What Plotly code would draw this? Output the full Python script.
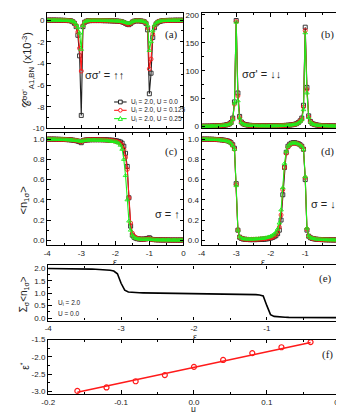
import plotly.graph_objects as go

# ---------------- data ----------------
eps = [-4.00, -3.95, -3.90, -3.85, -3.80, -3.75, -3.70, -3.65, -3.60, -3.55,
       -3.50, -3.45, -3.40, -3.35, -3.30, -3.25, -3.20, -3.15, -3.10, -3.05,
       -3.00, -2.95, -2.90, -2.85, -2.80, -2.75, -2.70, -2.65, -2.60, -2.55,
       -2.50, -2.45, -2.40, -2.35, -2.30, -2.25, -2.20, -2.15, -2.10, -2.05,
       -2.00, -1.95, -1.90, -1.85, -1.80, -1.75, -1.70, -1.65, -1.60, -1.55,
       -1.50, -1.45, -1.40, -1.35, -1.30, -1.25, -1.20, -1.15, -1.10, -1.05,
       -1.00, -0.95, -0.90, -0.85, -0.80, -0.75, -0.70, -0.65, -0.60, -0.55,
       -0.50, -0.45, -0.40, -0.35, -0.30, -0.25, -0.20, -0.15, -0.10, -0.05,
       0.00]

series_names = ["U<sub>i</sub> = 2.0, U = 0.0",
                "U<sub>i</sub> = 2.0, U = 0.125",
                "U<sub>i</sub> = 2.0, U = 0.25"]

# (a) concurrence up-up (x10^-3)
a_U0 = [0.0, 0.0, 0.0, 0.0, 0.0, 0.0, -0.01, -0.01, -0.01, -0.02,
        -0.02, -0.03, -0.04, -0.05, -0.07, -0.15, -0.3, -0.6, -1.4, -3.3,
        -8.8, -0.6, -0.2, -0.1, -0.06, -0.05, -0.04, -0.04, -0.04, -0.04,
        -0.04, -0.04, -0.04, -0.05, -0.05, -0.05, -0.06, -0.06, -0.07, -0.08,
        -0.08, -0.09, -0.1, -0.12, -0.16, -0.22, -0.3, -0.38, -0.42, -0.32,
        -0.18, -0.1, -0.07, -0.06, -0.07, -0.08, -0.1, -0.15, -0.3, -0.9,
        -6.8, -4.9, -1.6, -0.7, -0.35, -0.2, -0.12, -0.08, -0.05, -0.04,
        -0.03, -0.03, -0.02, -0.02, -0.02, -0.01, -0.01, -0.01, -0.01, -0.01,
        -0.01]
a_U125 = [0.0, 0.0, 0.0, 0.0, 0.0, 0.0, -0.01, -0.01, -0.01, -0.02,
          -0.02, -0.03, -0.04, -0.05, -0.07, -0.13, -0.25, -0.5, -1.1, -2.6,
          -4.7, -0.5, -0.18, -0.1, -0.06, -0.05, -0.04, -0.04, -0.04, -0.04,
          -0.04, -0.04, -0.04, -0.05, -0.05, -0.05, -0.06, -0.06, -0.07, -0.08,
          -0.08, -0.09, -0.1, -0.12, -0.16, -0.21, -0.28, -0.36, -0.4, -0.3,
          -0.17, -0.1, -0.07, -0.06, -0.07, -0.08, -0.1, -0.14, -0.25, -0.7,
          -4.5, -3.6, -1.3, -0.6, -0.3, -0.17, -0.1, -0.07, -0.05, -0.04,
          -0.03, -0.03, -0.02, -0.02, -0.02, -0.01, -0.01, -0.01, -0.01, -0.01,
          -0.01]
a_U25 = [0.0, 0.0, 0.0, 0.0, 0.0, 0.0, -0.01, -0.01, -0.01, -0.02,
         -0.02, -0.03, -0.04, -0.05, -0.06, -0.1, -0.2, -0.4, -0.7, -1.2,
         -2.7, -0.5, -0.15, -0.08, -0.05, -0.04, -0.03, -0.03, -0.03, -0.03,
         -0.03, -0.03, -0.03, -0.04, -0.04, -0.04, -0.05, -0.05, -0.06, -0.06,
         -0.07, -0.08, -0.09, -0.1, -0.13, -0.17, -0.22, -0.27, -0.3, -0.24,
         -0.14, -0.08, -0.06, -0.05, -0.06, -0.07, -0.09, -0.12, -0.2, -0.5,
         -2.8, -2.0, -1.0, -0.45, -0.25, -0.15, -0.09, -0.06, -0.04, -0.03,
         -0.03, -0.02, -0.02, -0.02, -0.01, -0.01, -0.01, -0.01, -0.01, -0.01,
         -0.01]

# (b) concurrence down-down
b_U0 = [0.5, 0.5, 0.5, 0.6, 0.6, 0.7, 0.8, 0.9, 1.0, 1.1,
        1.3, 1.5, 1.8, 2.1, 2.6, 3.3, 4.5, 7.0, 15.0, 44.0,
        190.0, 60.0, 18.0, 8.0, 5.0, 3.5, 2.8, 2.3, 2.0, 1.8,
        1.6, 1.4, 1.3, 1.25, 1.2, 1.15, 1.1, 1.1, 1.1, 1.1,
        1.1, 1.15, 1.2, 1.25, 1.3, 1.4, 1.5, 1.6, 1.8, 2.0,
        2.2, 2.5, 2.8, 3.3, 4.0, 5.0, 7.0, 10.0, 15.0, 38.0,
        178.0, 70.0, 19.0, 9.0, 5.5, 4.0, 3.0, 2.5, 2.0, 1.7,
        1.5, 1.3, 1.2, 1.1, 1.0, 0.95, 0.9, 0.85, 0.8, 0.8,
        0.8]
b_U125 = [0.5, 0.5, 0.5, 0.6, 0.6, 0.7, 0.8, 0.9, 1.0, 1.1,
          1.3, 1.5, 1.8, 2.1, 2.5, 3.2, 4.3, 6.5, 13.0, 40.0,
          188.0, 55.0, 16.0, 7.5, 4.8, 3.4, 2.7, 2.2, 1.9, 1.7,
          1.5, 1.4, 1.3, 1.25, 1.2, 1.15, 1.1, 1.1, 1.1, 1.1,
          1.1, 1.15, 1.2, 1.25, 1.3, 1.4, 1.5, 1.6, 1.8, 2.0,
          2.2, 2.5, 2.8, 3.2, 3.9, 4.8, 6.7, 9.5, 13.0, 35.0,
          172.0, 66.0, 17.0, 8.5, 5.2, 3.8, 2.9, 2.4, 1.9, 1.6,
          1.4, 1.3, 1.2, 1.1, 1.0, 0.95, 0.9, 0.85, 0.8, 0.8,
          0.8]
b_U25 = [0.5, 0.5, 0.5, 0.6, 0.6, 0.7, 0.8, 0.9, 1.0, 1.1,
         1.3, 1.5, 1.7, 2.0, 2.4, 3.0, 4.1, 6.0, 12.0, 42.0,
         187.0, 46.0, 15.0, 7.0, 4.5, 3.2, 2.6, 2.1, 1.8, 1.6,
         1.5, 1.4, 1.3, 1.25, 1.2, 1.15, 1.1, 1.1, 1.1, 1.1,
         1.1, 1.15, 1.2, 1.25, 1.3, 1.4, 1.5, 1.6, 1.8, 2.0,
         2.2, 2.4, 2.7, 3.1, 3.7, 4.6, 6.3, 9.0, 12.0, 30.0,
         168.0, 60.0, 16.0, 8.0, 5.0, 3.6, 2.8, 2.3, 1.9, 1.6,
         1.4, 1.3, 1.2, 1.1, 1.0, 0.95, 0.9, 0.85, 0.8, 0.8,
         0.8]

# (c) <n_1up>
c_U0 = [1.0, 1.0, 1.0, 1.0, 1.0, 0.999, 0.999, 0.998, 0.998, 0.997,
        0.997, 0.996, 0.995, 0.994, 0.993, 0.99, 0.988, 0.985, 0.98, 0.975,
        0.965, 0.985, 0.99, 0.992, 0.993, 0.994, 0.995, 0.995, 0.995, 0.995,
        0.995, 0.995, 0.995, 0.994, 0.994, 0.993, 0.992, 0.99, 0.99, 0.988,
        0.985, 0.982, 0.978, 0.972, 0.96, 0.93, 0.86, 0.73, 0.42, 0.14,
        0.05, 0.03, 0.02, 0.015, 0.012, 0.011, 0.011, 0.012, 0.014, 0.018,
        0.025, 0.012, 0.008, 0.006, 0.005, 0.004, 0.004, 0.003, 0.003, 0.003,
        0.003, 0.003, 0.002, 0.002, 0.002, 0.002, 0.002, 0.002, 0.002, 0.002,
        0.002]
c_U125 = [1.0, 1.0, 1.0, 1.0, 1.0, 0.999, 0.999, 0.998, 0.998, 0.997,
          0.997, 0.996, 0.995, 0.994, 0.993, 0.991, 0.989, 0.987, 0.983, 0.979,
          0.972, 0.986, 0.99, 0.992, 0.993, 0.994, 0.994, 0.994, 0.994, 0.994,
          0.994, 0.994, 0.993, 0.993, 0.992, 0.991, 0.99, 0.988, 0.986, 0.983,
          0.98, 0.975, 0.97, 0.96, 0.94, 0.9, 0.82, 0.7, 0.42, 0.17,
          0.07, 0.04, 0.025, 0.018, 0.014, 0.012, 0.011, 0.011, 0.012, 0.014,
          0.016, 0.01, 0.007, 0.005, 0.004, 0.004, 0.003, 0.003, 0.003, 0.003,
          0.003, 0.003, 0.002, 0.002, 0.002, 0.002, 0.002, 0.002, 0.002, 0.002,
          0.002]
c_U25 = [1.0, 1.0, 1.0, 1.0, 1.0, 0.999, 0.999, 0.998, 0.998, 0.997,
         0.996, 0.995, 0.994, 0.993, 0.992, 0.99, 0.988, 0.986, 0.984, 0.981,
         0.978, 0.985, 0.988, 0.99, 0.991, 0.991, 0.991, 0.991, 0.991, 0.99,
         0.99, 0.99, 0.989, 0.988, 0.987, 0.986, 0.984, 0.982, 0.98, 0.978,
         0.975, 0.97, 0.96, 0.94, 0.9, 0.8, 0.64, 0.4, 0.19, 0.1,
         0.05, 0.03, 0.02, 0.015, 0.012, 0.01, 0.01, 0.01, 0.01, 0.011,
         0.012, 0.009, 0.006, 0.005, 0.004, 0.004, 0.003, 0.003, 0.003, 0.003,
         0.003, 0.003, 0.002, 0.002, 0.002, 0.002, 0.002, 0.002, 0.002, 0.002,
         0.002]

# (d) <n_1down>
d_U0 = [1.0, 1.0, 1.0, 1.0, 1.0, 0.999, 0.999, 0.998, 0.997, 0.996,
        0.995, 0.994, 0.992, 0.99, 0.987, 0.983, 0.977, 0.965, 0.945, 0.91,
        0.56, 0.1, 0.03, 0.018, 0.012, 0.01, 0.008, 0.007, 0.006, 0.006,
        0.006, 0.006, 0.007, 0.007, 0.008, 0.009, 0.01, 0.012, 0.014, 0.017,
        0.021, 0.027, 0.035, 0.045, 0.065, 0.1, 0.2, 0.45, 0.72, 0.87,
        0.93, 0.95, 0.96, 0.965, 0.965, 0.96, 0.955, 0.945, 0.93, 0.9,
        0.6, 0.1, 0.04, 0.025, 0.018, 0.014, 0.011, 0.009, 0.008, 0.007,
        0.006, 0.005, 0.005, 0.004, 0.004, 0.004, 0.003, 0.003, 0.003, 0.003,
        0.003]
d_U125 = [1.0, 1.0, 1.0, 1.0, 1.0, 0.999, 0.999, 0.998, 0.997, 0.996,
          0.995, 0.993, 0.991, 0.989, 0.986, 0.982, 0.975, 0.962, 0.94, 0.9,
          0.55, 0.1, 0.032, 0.02, 0.014, 0.011, 0.01, 0.009, 0.009, 0.009,
          0.009, 0.01, 0.01, 0.011, 0.012, 0.013, 0.015, 0.017, 0.02, 0.022,
          0.025, 0.03, 0.04, 0.055, 0.08, 0.13, 0.25, 0.5, 0.72, 0.86,
          0.92, 0.945, 0.955, 0.96, 0.96, 0.958, 0.952, 0.942, 0.928, 0.9,
          0.62, 0.11, 0.042, 0.026, 0.019, 0.015, 0.012, 0.01, 0.008, 0.007,
          0.006, 0.005, 0.005, 0.004, 0.004, 0.004, 0.003, 0.003, 0.003, 0.003,
          0.003]
d_U25 = [1.0, 1.0, 1.0, 1.0, 1.0, 0.999, 0.999, 0.998, 0.997, 0.996,
         0.994, 0.992, 0.99, 0.987, 0.984, 0.98, 0.972, 0.96, 0.935, 0.9,
         0.54, 0.1, 0.035, 0.022, 0.016, 0.013, 0.012, 0.012, 0.012, 0.012,
         0.012, 0.013, 0.014, 0.015, 0.017, 0.019, 0.02, 0.024, 0.028, 0.033,
         0.04, 0.05, 0.06, 0.08, 0.11, 0.17, 0.3, 0.52, 0.76, 0.88,
         0.93, 0.95, 0.96, 0.963, 0.963, 0.96, 0.953, 0.943, 0.93, 0.9,
         0.63, 0.12, 0.045, 0.028, 0.02, 0.016, 0.013, 0.011, 0.009, 0.008,
         0.007, 0.006, 0.005, 0.005, 0.004, 0.004, 0.004, 0.003, 0.003, 0.003,
         0.003]

# (e) total occupation, U_i = 2.0, U = 0.0
e_sum = [1.995, 1.995, 1.994, 1.993, 1.992, 1.99, 1.988, 1.986, 1.983, 1.98,
         1.977, 1.973, 1.968, 1.962, 1.955, 1.945, 1.935, 1.92, 1.89, 1.78,
         1.4, 1.12, 1.05, 1.03, 1.022, 1.018, 1.015, 1.013, 1.012, 1.011,
         1.01, 1.01, 1.009, 1.008, 1.007, 1.006, 1.005, 1.004, 1.003, 1.002,
         1.0, 0.999, 0.998, 0.997, 0.995, 0.993, 0.991, 0.989, 0.987, 0.985,
         0.982, 0.979, 0.976, 0.972, 0.968, 0.962, 0.955, 0.945, 0.93, 0.89,
         0.5, 0.14, 0.07, 0.05, 0.04, 0.035, 0.03, 0.027, 0.025, 0.023,
         0.022, 0.021, 0.02, 0.02, 0.019, 0.019, 0.018, 0.018, 0.018, 0.017,
         0.017]

# (f) eps* vs mu
mu = [-0.16, -0.12, -0.08, -0.04, 0.0, 0.04, 0.08, 0.12, 0.16]
eps_star = [-2.99, -2.89, -2.71, -2.53, -2.29, -2.09, -1.89, -1.72, -1.57]
fit_mu = [-0.16, 0.16]
fit_eps = [-3.03, -1.58]

# tick labels
eps_ticks = [-4, -3, -2, -1, 0]
eps_ticktext = ["-4", "-3", "-2", "-1", "0"]
a_ticks = [0, -2, -4, -6, -8, -10]
a_ticktext = ["0", "-2", "-4", "-6", "-8", "-10"]
b_ticks = [0, 50, 100, 150, 200]
b_ticktext = ["0", "50", "100", "150", "200"]
n_ticks = [0.0, 0.2, 0.4, 0.6, 0.8, 1.0]
n_ticktext = ["0.0", "0.2", "0.4", "0.6", "0.8", "1.0"]
e_ticks = [0.0, 0.5, 1.0, 1.5, 2.0]
e_ticktext = ["0.0", "0.5", "1.0", "1.5", "2.0"]
f_yticks = [-3.0, -2.5, -2.0, -1.5]
f_yticktext = ["-3.0", "-2.5", "-2.0", "-1.5"]
f_xticks = [-0.2, -0.1, 0.0, 0.1, 0.2]
f_xticktext = ["-0.2", "-0.1", "0.0", "0.1", "0.2"]

# ---------------- layout helpers ----------------
W, H = 344, 412
SANS = "Liberation Sans, Arial, sans-serif"
SERIF = "Liberation Serif, Times New Roman, serif"
colors = ["#222222", "#ff1a1a", "#1cf01c"]
symbols = ["square-open", "circle-open", "triangle-up-open"]


def px_x(px):
    return px / W


def px_y(py):
    return 1 - py / H


def xdom(l, r):
    return [l / W, r / W]


def ydom(top, bottom):
    return [1 - bottom / H, 1 - top / H]


def axis_style(domain, rng, tickvals, ticktext, minor_dtick, anchor, show_labels=True):
    return dict(domain=domain, range=rng, tickmode="array", tickvals=tickvals,
                ticktext=ticktext, showticklabels=show_labels,
                showline=True, linecolor="black", linewidth=1.4, mirror="allticks",
                ticks="inside", ticklen=3.5, tickwidth=1, tickcolor="black",
                minor=dict(ticks="inside", ticklen=2, tickwidth=0.8, tickcolor="black",
                           dtick=minor_dtick, showgrid=False),
                showgrid=False, zeroline=False, anchor=anchor,
                tickfont=dict(family=SANS, size=8, color="#222"))


fig = go.Figure()

panels = [
    ("x", "y", [a_U0, a_U125, a_U25]),
    ("x2", "y2", [b_U0, b_U125, b_U25]),
    ("x3", "y3", [c_U0, c_U125, c_U25]),
    ("x4", "y4", [d_U0, d_U125, d_U25]),
]
for xa, ya, series in panels:
    for k, vals in enumerate(series):
        fig.add_trace(go.Scatter(
            x=eps, y=vals, xaxis=xa, yaxis=ya, mode="lines+markers",
            name=series_names[k], showlegend=False,
            line=dict(color=colors[k], width=1.1),
            marker=dict(symbol=symbols[k], size=4, color=colors[k],
                        line=dict(width=0.9, color=colors[k]))))

fig.add_trace(go.Scatter(x=eps, y=e_sum, xaxis="x5", yaxis="y5", mode="lines",
                         showlegend=False, line=dict(color="black", width=1.6)))
fig.add_trace(go.Scatter(x=fit_mu, y=fit_eps, xaxis="x6", yaxis="y6", mode="lines",
                         showlegend=False, line=dict(color="#ff1a1a", width=1.5)))
fig.add_trace(go.Scatter(x=mu, y=eps_star, xaxis="x6", yaxis="y6", mode="markers",
                         showlegend=False,
                         marker=dict(symbol="circle-open", size=5, color="#ff1a1a",
                                     line=dict(width=1.2, color="#ff1a1a"))))

dA = ydom(1, 119)
dC = ydom(124, 238)
L = xdom(33.5, 175)
R = xdom(194, 337.5)

fig.update_layout(
    xaxis=axis_style(L, [-4, 0], eps_ticks, eps_ticktext, 0.5, "y", False),
    yaxis=axis_style(dA, [-10, 0.66], a_ticks, a_ticktext, 1, "x"),
    xaxis2=axis_style(R, [-4, 0], eps_ticks, eps_ticktext, 0.5, "y2", False),
    yaxis2=axis_style(dA, [-3.5, 203.5], b_ticks, b_ticktext, 25, "x2"),
    xaxis3=axis_style(L, [-4, 0], eps_ticks, eps_ticktext, 0.5, "y3"),
    yaxis3=axis_style(dC, [-0.045, 1.058], n_ticks, n_ticktext, 0.1, "x3"),
    xaxis4=axis_style(R, [-4, 0], eps_ticks, eps_ticktext, 0.5, "y4"),
    yaxis4=axis_style(dC, [-0.045, 1.058], n_ticks, n_ticktext, 0.1, "x4"),
    xaxis5=axis_style(xdom(34.5, 337.5), [-4, 0], eps_ticks, eps_ticktext, 0.5, "y5"),
    yaxis5=axis_style(ydom(259, 315.5), [-0.1, 2.12], e_ticks, e_ticktext, 0.25, "x5"),
    xaxis6=axis_style(xdom(34.5, 337.5), [-0.2, 0.2], f_xticks, f_xticktext, 0.05, "y6"),
    yaxis6=axis_style(ydom(335, 390.5), [-3.08, -1.5], f_yticks, f_yticktext, 0.25, "x6"),
)


def ann(text, px, py, size, family=SANS, angle=0, xanchor="center", yanchor="middle",
        borderpad=1):
    return dict(text=text, x=px_x(px), y=px_y(py), xref="paper", yref="paper",
                showarrow=False, textangle=angle, xanchor=xanchor, yanchor=yanchor,
                borderpad=borderpad,
                font=dict(family=family, size=size, color="#222"))


annotations = [
    ann("(a)", 163, 23, 11, SERIF),
    ann("(b)", 325, 23, 11, SERIF),
    ann("(c)", 163, 143, 11, SERIF),
    ann("(d)", 325, 143, 11, SERIF),
    ann("(e)", 323, 272, 11, SERIF),
    ann("(f)", 325, 350, 11, SERIF),
    ann("σσ' = ↑↑", 93, 64, 11),
    ann("σσ' = ↓↓", 256, 63, 11),
    ann("σ = ↑", 159, 206, 11),
    ann("σ = ↓", 321, 196, 11),
    ann("U<sub>i</sub> = 2.0", 43, 298, 6.5, xanchor="left"),
    ann("U = 0.0", 43, 308, 6.5, xanchor="left"),
    ann("𝒞<sup>σσ'</sup><sub>A1,BN</sub> (x10<sup>-3</sup>)", 13, 60, 11, angle=-90),
    ann("&lt;n<sub>1σ</sub>&gt;", 9, 193, 11, angle=-90),
    ann("Σ<sub>σ</sub>&lt;n<sub>1σ</sub>&gt;", 9, 289, 10, angle=-90),
    ann("ε<sup>*</sup>", 10, 362, 10, angle=-90),
    ann("ε", 104, 255.5, 9),
    ann("ε", 258, 255.5, 9),
    ann("ε", 187, 332.5, 9),
    ann("μ", 186, 411.5, 8.5, yanchor="bottom", borderpad=0),
]

# legend (panel a), drawn as a key: short line + marker + label
legend_rows = [92, 100.5, 109]
shapes = []
for k, row in enumerate(legend_rows):
    yc = px_y(row)
    shapes.append(dict(type="line", xref="paper", yref="paper",
                       x0=px_x(103), x1=px_x(116), y0=yc, y1=yc,
                       line=dict(color=colors[k], width=1.1)))
    cx, r = 109.5, 1.9
    if k == 0:
        shapes.append(dict(type="rect", xref="paper", yref="paper",
                           x0=px_x(cx - r), x1=px_x(cx + r),
                           y0=px_y(row + r), y1=px_y(row - r),
                           line=dict(color=colors[k], width=1), fillcolor="white"))
    elif k == 1:
        shapes.append(dict(type="circle", xref="paper", yref="paper",
                           x0=px_x(cx - r), x1=px_x(cx + r),
                           y0=px_y(row + r), y1=px_y(row - r),
                           line=dict(color=colors[k], width=1), fillcolor="white"))
    else:
        path = "M {:.5f},{:.5f} L {:.5f},{:.5f} L {:.5f},{:.5f} Z".format(
            px_x(cx - 2.2), px_y(row + 1.8), px_x(cx + 2.2), px_y(row + 1.8),
            px_x(cx), px_y(row - 2.2))
        shapes.append(dict(type="path", xref="paper", yref="paper", path=path,
                           line=dict(color=colors[k], width=1), fillcolor="white"))
    annotations.append(ann(series_names[k], 118, row, 6.5, xanchor="left"))

fig.update_layout(
    width=W, height=H, margin=dict(l=0, r=0, t=0, b=0),
    paper_bgcolor="white", plot_bgcolor="white",
    annotations=annotations, shapes=shapes,
    showlegend=False,
)

fig.write_html("out.html")
